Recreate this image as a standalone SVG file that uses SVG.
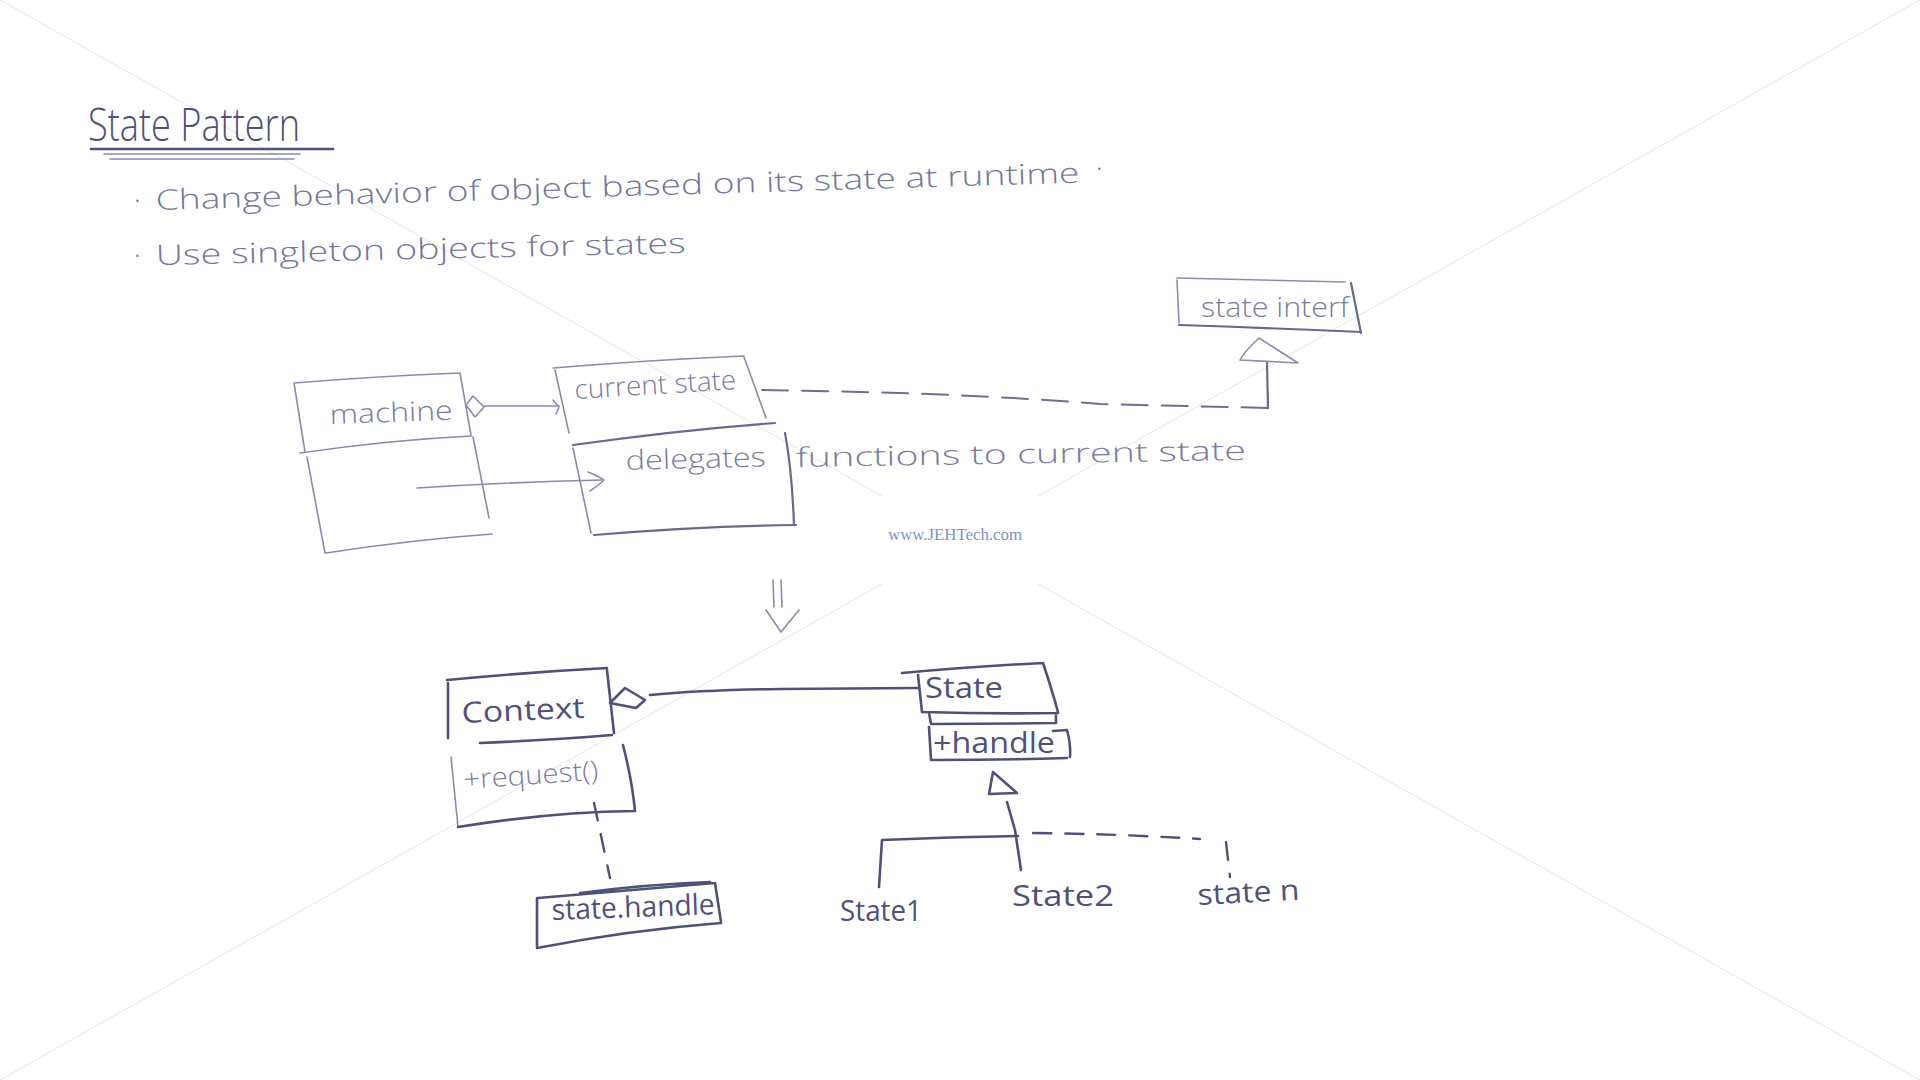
<svg xmlns="http://www.w3.org/2000/svg" width="1920" height="1080" viewBox="0 0 1920 1080">
<defs>
<style>
.bg{fill:#ffffff}
.wm{stroke:#e4e5ee;stroke-width:1;fill:none}
.thin{stroke:#8a8cab;stroke-width:1.6;fill:none;stroke-linecap:round;stroke-linejoin:round}
.mid{stroke:#676a8d;stroke-width:2.2;fill:none;stroke-linecap:round;stroke-linejoin:round}
.bold{stroke:#4f5278;stroke-width:2.6;fill:none;stroke-linecap:round;stroke-linejoin:round}
.dash{stroke:#6c6f92;stroke-width:2;fill:none;stroke-dasharray:26 14;stroke-linecap:round}
.dashb{stroke:#4f5278;stroke-width:2.4;fill:none;stroke-dasharray:18 14;stroke-linecap:round}
.title{font-family:"Open Sans","Liberation Sans",sans-serif;font-weight:300;font-size:46px;fill:#4e5173}
.note{font-family:"Open Sans","Liberation Sans",sans-serif;font-weight:300;font-size:28px;fill:#74779a}
.lbl{font-family:"Open Sans","Liberation Sans",sans-serif;font-weight:300;font-size:27px;fill:#7a7d9e}
.lblb{font-family:"Open Sans","Liberation Sans",sans-serif;font-weight:400;font-size:29px;fill:#4f5278}
.wmt{font-family:"Liberation Serif",serif;font-size:17px;fill:#7b92cf}
</style>
</defs>
<rect class="bg" x="0" y="0" width="1920" height="1080"/>

<g id="watermark">
<line class="wm" x1="0" y1="0" x2="882" y2="496"/>
<line class="wm" x1="1038" y1="584" x2="1920" y2="1080"/>
<line class="wm" x1="1920" y1="0" x2="1038" y2="496"/>
<line class="wm" x1="882" y1="584" x2="0" y2="1080"/>
<text class="wmt" x="888" y="540" textLength="134" lengthAdjust="spacingAndGlyphs">www.JEHTech.com</text>
</g>

<g id="title">
<text class="title" x="88" y="141" textLength="212" lengthAdjust="spacingAndGlyphs">State Pattern</text>
<path class="bold" d="M91,149 L333,149" stroke-width="3"/>
<path class="thin" d="M104,154 L300,154" stroke="#6f7294" stroke-width="2"/>
<path class="thin" d="M110,159 L294,159"/>
</g>

<g id="bullets">
<text class="note" x="134" y="210">·</text>
<text class="note" x="156" y="210" textLength="924" lengthAdjust="spacingAndGlyphs" transform="rotate(-1.7 156 210)">Change behavior of object based on its state at runtime</text>
<text class="note" x="1096" y="178">·</text>
<text class="note" x="134" y="265">·</text>
<text class="note" x="156" y="265" textLength="530" lengthAdjust="spacingAndGlyphs" transform="rotate(-1.3 156 265)">Use singleton objects for states</text>
</g>

<g id="machine">
<path class="thin" d="M294,383 Q380,376 460,373 M294,383 L305,452 M300,453 Q390,440 471,436 M460,373 L471,435 M307,457 L325,553 M473,437 L489,518 M326,553 Q410,540 492,534"/>
<text class="lbl" x="330" y="424" textLength="123" lengthAdjust="spacingAndGlyphs" transform="rotate(-2 330 424)">machine</text>
</g>

<g id="current-state">
<path class="thin" d="M553,368 Q650,360 744,356 M555,370 L569,433 M744,357 L766,418"/>
<path class="mid" d="M573,445 Q680,430 775,423"/>
<text class="lbl" x="575" y="399" textLength="162" lengthAdjust="spacingAndGlyphs" transform="rotate(-3.5 575 399)">current state</text>
</g>

<g id="delegates">
<path class="thin" d="M573,448 L591,533"/>
<path class="mid" d="M594,535 Q700,526 796,525 M785,433 Q792,470 794,525"/>
<text class="lbl" x="626" y="470" textLength="140" lengthAdjust="spacingAndGlyphs" transform="rotate(-1.5 626 470)">delegates</text>
<text class="lbl" x="796" y="467" textLength="450" lengthAdjust="spacingAndGlyphs" transform="rotate(-0.9 796 467)">functions to current state</text>
</g>

<g id="state-interf">
<path class="thin" d="M1177,278 Q1260,280 1345,282 M1177,280 L1179,323"/>
<path class="mid" d="M1179,325 Q1270,328 1361,332 M1351,283 L1361,333"/>
<text class="lbl" x="1201" y="317" textLength="148" lengthAdjust="spacingAndGlyphs">state interf</text>
</g>

<g id="context">
<path class="bold" d="M447,680 Q530,672 607,668 M448,683 L448,738 M607,670 L614,733 M480,743 Q550,740 612,735"/>
<text class="lblb" x="462" y="723" textLength="123" lengthAdjust="spacingAndGlyphs" transform="rotate(-2.5 462 723)">Context</text>
</g>

<g id="request">
<path class="thin" d="M451,757 L458,827" stroke="#6c6f92" stroke-width="2"/>
<path class="bold" d="M623,745 Q632,780 635,811 M458,827 Q550,812 635,811"/>
<text class="lbl" x="464" y="789" textLength="135" lengthAdjust="spacingAndGlyphs" transform="rotate(-4 464 789)" fill="#5f6286">+request()</text>
</g>

<g id="state">
<path class="bold" d="M902,673 Q980,666 1043,663 M918,675 L922,712 M1043,663 Q1052,690 1058,712 M922,712 Q990,714 1058,713 M929,713 L931,724 M931,724 Q995,724 1056,723 M1056,713 L1056,723"/>
<text class="lblb" x="925" y="698" textLength="78" lengthAdjust="spacingAndGlyphs">State</text>
</g>

<g id="handle">
<path class="bold" d="M929,727 L931,760 M931,760 Q1000,760 1067,758 M1053,731 L1067,730 Q1071,745 1070,757"/>
<text class="lblb" x="933" y="753" textLength="122" lengthAdjust="spacingAndGlyphs">+handle</text>
</g>

<g id="state-handle">
<path class="bold" d="M538,898 Q630,890 715,883 M580,893 Q650,884 710,882 M537,898 L537,948 M537,948 Q630,930 721,923 M715,883 L721,922"/>
<text class="lblb" x="552" y="920" textLength="163" lengthAdjust="spacingAndGlyphs" transform="rotate(-2 552 920)">state.handle</text>
</g>

<g id="state1">
<text class="lblb" x="840" y="921" textLength="82" lengthAdjust="spacingAndGlyphs">State1</text>
</g>
<g id="state2">
<text class="lblb" x="1012" y="906" textLength="102" lengthAdjust="spacingAndGlyphs">State2</text>
</g>
<g id="staten">
<text class="lblb" x="1198" y="905" textLength="102" lengthAdjust="spacingAndGlyphs" transform="rotate(-3 1198 905)">state n</text>
</g>

<g id="connectors">
<path class="thin" d="M466,405 L473,396 L484,407 L475,417 Z"/>
<path class="thin" d="M484,406 L559,406 M553,400 L559,407 L556,414"/>
<path class="thin" d="M417,488 Q510,482 602,480" stroke="#7a7d9e" stroke-width="1.8"/>
<path class="thin" d="M588,472 Q598,476 604,480 Q598,486 590,491" stroke="#7a7d9e" stroke-width="1.8"/>
<path class="dash" d="M762,390 C900,392 1000,396 1100,404 L1268,408"/>
<path class="mid" d="M1268,408 L1267,363"/>
<path class="thin" d="M1259,338 Q1244,352 1240,360 L1298,363 Z" stroke="#7a7d9e"/>
<path class="thin" d="M773,580 L774,607 M781,580 L782,607 M766,610 L781,632 L799,610" stroke="#6c6f92" stroke-width="2"/>
<path class="bold" d="M610,703 L625,688 L645,700 L636,708 Z"/>
<path class="bold" d="M650,695 Q700,690 780,689 L918,688"/>
<path class="dashb" d="M594,803 Q602,840 610,878"/>
<path class="bold" d="M993,772 L989,794 L1017,793 Z"/>
<path class="bold" d="M1007,802 L1015,830 L1021,870"/>
<path class="bold" d="M882,840 Q950,837 1018,836 M882,840 L879,887"/>
<path class="dashb" d="M1033,833 Q1120,834 1200,839"/>
<path class="dashb" d="M1226,842 L1230,877" stroke-dasharray="10 12"/>
</g>
</svg>
